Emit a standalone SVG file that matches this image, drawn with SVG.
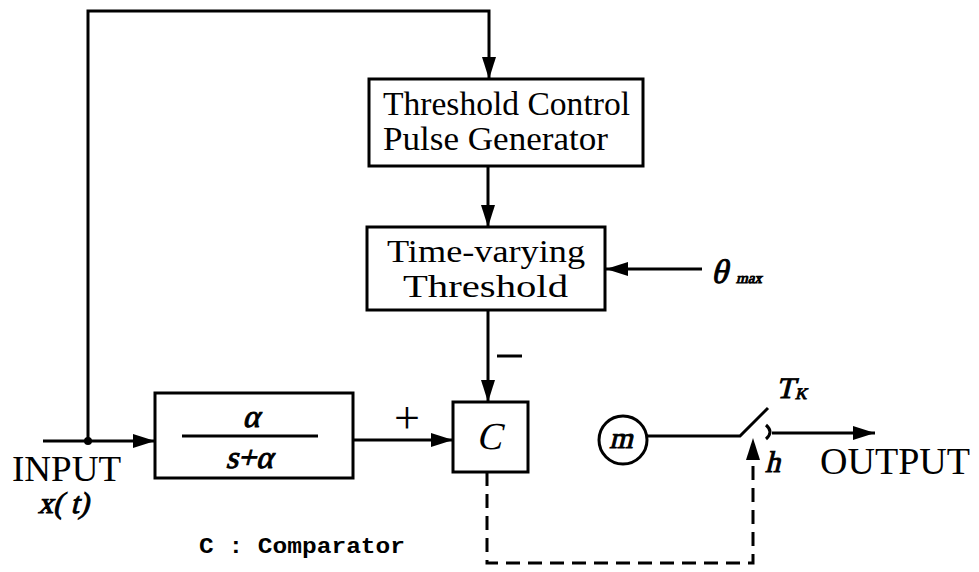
<svg xmlns="http://www.w3.org/2000/svg" width="979" height="572" viewBox="0 0 979 572">
<style>
.box{fill:#fff;stroke:#000;stroke-width:3}
.ln{fill:none;stroke:#000;stroke-width:3}
.dash{fill:none;stroke:#000;stroke-width:3;stroke-dasharray:14 8}
.t{font-family:"Liberation Serif","DejaVu Serif",serif;fill:#000}
.m{font-family:"Liberation Serif","DejaVu Serif",serif;fill:#000;stroke:#000;stroke-width:1}
.mono{font-family:"Liberation Mono","DejaVu Sans Mono",monospace;font-weight:bold;fill:#000}
</style>
<defs>
<marker id="ah" viewBox="0 0 22 14" refX="22" refY="7" markerWidth="22" markerHeight="14" markerUnits="userSpaceOnUse" orient="auto">
<path d="M0,0 L22,7 L0,14 z" fill="#000"/>
</marker>
</defs>
<g id="connectors">
<path class="ln" d="M88,441 V11 H489 V79" marker-end="url(#ah)"/>
<path class="ln" d="M43,441 H155" marker-end="url(#ah)"/>
<circle cx="88" cy="441" r="4" fill="#000"/>
<path class="ln" d="M488,166 V227" marker-end="url(#ah)"/>
<path class="ln" d="M702,269 H606" marker-end="url(#ah)"/>
<path class="ln" d="M488,310 V402" marker-end="url(#ah)"/>
<path class="ln" d="M353,440 H453" marker-end="url(#ah)"/>
<path class="ln" d="M647,436 H740 L768,408"/>
<path class="ln" d="M766,425 Q774,432 766,439" stroke-width="2.5"/>
<path class="ln" d="M772,433 H875" marker-end="url(#ah)"/>
<path class="dash" d="M487,472 V563 H753 V440"/>
<path d="M753,438 L746,460 L760,460 z" fill="#000"/>
</g>
<g id="pulse-generator">
<rect class="box" x="369" y="79" width="274" height="87"/>
<text class="t" x="383" y="115" font-size="33" textLength="247" lengthAdjust="spacingAndGlyphs">Threshold Control</text>
<text class="t" x="383" y="150" font-size="33" textLength="225" lengthAdjust="spacingAndGlyphs">Pulse Generator</text>
</g>
<g id="threshold">
<rect class="box" x="367" y="227" width="238" height="83"/>
<text class="t" x="387" y="262" font-size="32" textLength="198" lengthAdjust="spacingAndGlyphs">Time-varying</text>
<text class="t" x="403" y="297" font-size="32" textLength="165" lengthAdjust="spacingAndGlyphs">Threshold</text>
</g>
<g id="theta-max">
<text class="m" transform="translate(711,283) skewX(-14)" font-size="34">θ</text>
<text class="m" transform="translate(736,283) skewX(-14)" font-size="15" stroke-width="0.5">max</text>
</g>
<g id="filter">
<rect class="box" x="155" y="393" width="198" height="85"/>
<line class="ln" x1="182" y1="436" x2="318" y2="436"/>
<text class="m" transform="translate(251,427) skewX(-14)" font-size="32" text-anchor="middle">α</text>
<text class="m" transform="translate(249,468) skewX(-14)" font-size="32" text-anchor="middle">s+α</text>
</g>
<g id="comparator">
<rect class="box" x="453" y="402" width="75" height="70"/>
<text class="t" transform="translate(489,449) skewX(-14)" font-size="38" text-anchor="middle">C</text>
</g>
<g id="signs">
<text class="t" x="407" y="433" font-size="46" text-anchor="middle">+</text>
<line class="ln" x1="497" y1="356" x2="522" y2="356"/>
</g>
<g id="input">
<text class="t" x="12" y="481" font-size="36" textLength="109" lengthAdjust="spacingAndGlyphs">INPUT</text>
<text class="m" transform="translate(38,513) skewX(-14)" font-size="30">x( t)</text>
</g>
<g id="source">
<circle class="ln" cx="623" cy="440" r="24"/>
<text class="m" transform="translate(621,448) skewX(-14)" font-size="30" text-anchor="middle">m</text>
</g>
<g id="switch">
<text class="m" transform="translate(776,398) skewX(-14)" font-size="30">T</text>
<text class="m" transform="translate(795,399) skewX(-14)" font-size="16" stroke-width="0.5">K</text>
<text class="m" transform="translate(765,472) skewX(-14)" font-size="30">h</text>
</g>
<g id="output">
<text class="t" x="820" y="474" font-size="38" textLength="150" lengthAdjust="spacingAndGlyphs">OUTPUT</text>
</g>
<g id="legend">
<text class="mono" x="199" y="553" font-size="22" textLength="206" lengthAdjust="spacingAndGlyphs">C : Comparator</text>
</g>
</svg>
